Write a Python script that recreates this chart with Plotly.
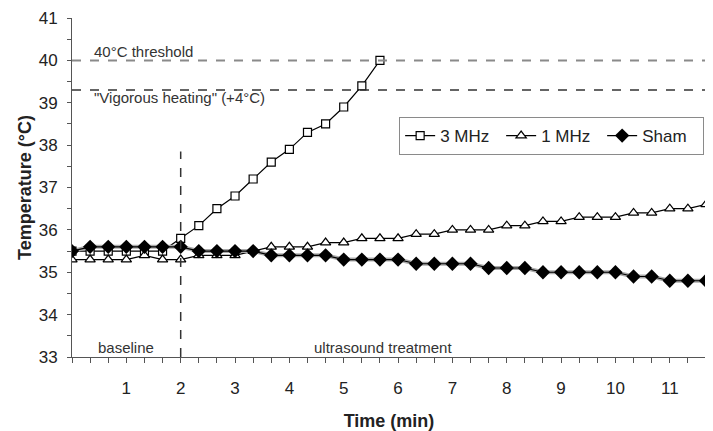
import plotly.graph_objects as go

# ---- data ----
time_s = [0, 20, 40, 60, 80, 100, 120, 140, 160, 180, 200, 220, 240, 260, 280, 300, 320, 340,
          360, 380, 400, 420, 440, 460, 480, 500, 520, 540, 560, 580, 600, 620, 640, 660, 680, 700]
time_min = [s / 60 for s in time_s]

mhz3 = [35.5, 35.5, 35.5, 35.5, 35.5, 35.5, 35.8, 36.1, 36.5, 36.8, 37.2, 37.6, 37.9, 38.3,
        38.5, 38.9, 39.4, 40.0]
mhz1 = [35.3, 35.3, 35.3, 35.3, 35.4, 35.3, 35.3, 35.4, 35.4, 35.4, 35.5, 35.6, 35.6, 35.6,
        35.7, 35.7, 35.8, 35.8, 35.8, 35.9, 35.9, 36.0, 36.0, 36.0, 36.1, 36.1, 36.2, 36.2,
        36.3, 36.3, 36.3, 36.4, 36.4, 36.5, 36.5, 36.6]
sham = [35.5, 35.6, 35.6, 35.6, 35.6, 35.6, 35.6, 35.5, 35.5, 35.5, 35.5, 35.4, 35.4, 35.4,
        35.4, 35.3, 35.3, 35.3, 35.3, 35.2, 35.2, 35.2, 35.2, 35.1, 35.1, 35.1, 35.0, 35.0,
        35.0, 35.0, 35.0, 34.9, 34.9, 34.8, 34.8, 34.8]

series_names = ["3 MHz", "1 MHz", "Sham"]
threshold_40 = 40.0
vigorous = 39.3
treatment_start_min = 2
marker_line_top = 37.85
minute_labels = ["1", "2", "3", "4", "5", "6", "7", "8", "9", "10", "11"]

# tick positions every 20 s, labels on whole minutes
tick_vals = time_min
tick_text = []
for s in time_s:
    if s % 60 == 0 and s > 0:
        tick_text.append(minute_labels[s // 60 - 1])
    else:
        tick_text.append("")

FONT = "Liberation Sans, Arial, sans-serif"
TXT = "#222222"

fig = go.Figure()

fig.add_trace(go.Scatter(
    x=time_min[:len(mhz3)], y=mhz3, name=series_names[0], mode="lines+markers",
    line=dict(color="black", width=1.2),
    marker=dict(symbol="square", size=8, color="white", line=dict(color="black", width=1.2)),
))
fig.add_trace(go.Scatter(
    x=time_min, y=mhz1, name=series_names[1], mode="lines+markers",
    line=dict(color="black", width=1.2),
    marker=dict(symbol="triangle-up", size=9, color="white", line=dict(color="black", width=1.2)),
))
# gray halo under sham line
fig.add_trace(go.Scatter(
    x=time_min, y=sham, mode="lines", showlegend=False, hoverinfo="skip",
    line=dict(color="#aaaaaa", width=4),
))
fig.add_trace(go.Scatter(
    x=time_min, y=sham, name=series_names[2], mode="lines+markers",
    line=dict(color="black", width=1.2),
    marker=dict(symbol="diamond", size=11, color="black", line=dict(color="black", width=0)),
))

x_end = time_min[-1]
# threshold lines
fig.add_shape(type="line", x0=0, x1=x_end, y0=threshold_40, y1=threshold_40, xref="x", yref="y",
              line=dict(color="#8a8a8a", width=2, dash="dash"))
fig.add_shape(type="line", x0=0, x1=x_end, y0=vigorous, y1=vigorous, xref="x", yref="y",
              line=dict(color="#333333", width=1.5, dash="dash"))
fig.add_shape(type="line", x0=treatment_start_min, x1=treatment_start_min, y0=33, y1=marker_line_top,
              xref="x", yref="y", line=dict(color="#333333", width=1.5, dash="dash"))

ann_font = dict(family=FONT, size=15, color="#333333")
fig.add_annotation(x=0.36, y=40.2, text="40°C threshold", showarrow=False, xanchor="left",
                   yanchor="middle", font=ann_font)
fig.add_annotation(x=0.36, y=39.12, text="\"Vigorous heating\" (+4°C)", showarrow=False,
                   xanchor="left", yanchor="middle", font=ann_font)
fig.add_annotation(x=1.0, y=33.22, text="baseline", showarrow=False, xanchor="center",
                   yanchor="middle", font=ann_font)
fig.add_annotation(x=5.73, y=33.22, text="ultrasound treatment", showarrow=False,
                   xanchor="center", yanchor="middle", font=ann_font)

# page body has an 8px default margin, so the figure is 8px smaller and shifted
fig.update_layout(
    width=705, height=423,
    margin=dict(l=64, r=7, t=10, b=74, autoexpand=False),
    paper_bgcolor="white", plot_bgcolor="white",
    font=dict(family=FONT, size=17, color=TXT),
    showlegend=True,
    legend=dict(orientation="h", x=0.516, y=0.708, xanchor="left", yanchor="top",
                bordercolor="#8a8a8a", borderwidth=1, bgcolor="white",
                font=dict(family=FONT, size=17, color=TXT),
                itemwidth=30, tracegroupgap=0, entrywidth=56, entrywidthmode="pixels"),
)

fig.update_xaxes(
    range=[0, x_end], showgrid=False, zeroline=False, automargin=False,
    showline=True, linecolor="#555555", linewidth=1,
    tickmode="array", tickvals=tick_vals, ticktext=tick_text,
    ticks="outside", ticklen=5, tickcolor="#555555", tickwidth=1,
    ticklabelstandoff=11,
    tickfont=dict(family=FONT, size=17, color=TXT),
    title=dict(text="<b>Time (min)</b>", font=dict(family=FONT, size=18, color=TXT), standoff=16),
)
fig.update_yaxes(
    range=[33, 41], showgrid=False, zeroline=False, automargin=False,
    showline=True, linecolor="#555555", linewidth=1,
    dtick=1, tick0=33,
    ticks="outside", ticklen=4, tickcolor="#555555", tickwidth=1,
    minor=dict(dtick=0.5, tick0=33, ticks="outside", ticklen=4, tickcolor="#555555", showgrid=False),
    ticklabelstandoff=6,
    tickfont=dict(family=FONT, size=17, color=TXT),
    title=dict(text="<b>Temperature (°C)</b>", font=dict(family=FONT, size=18, color=TXT), standoff=2),
)

fig.write_html("out.html")
